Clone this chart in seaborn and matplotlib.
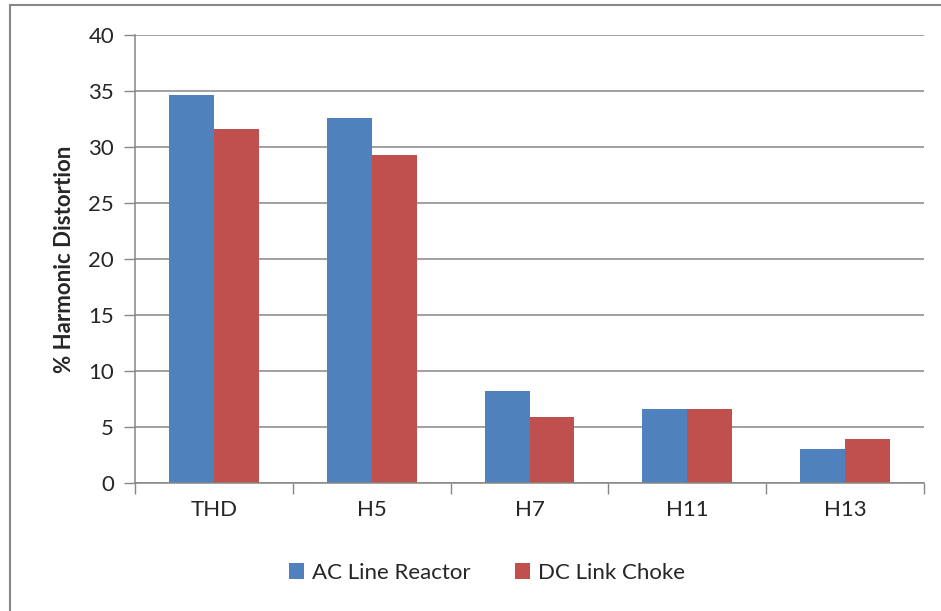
import matplotlib
matplotlib.use("Agg")
import matplotlib.pyplot as plt
from matplotlib.patches import Rectangle
import pandas as pd
import seaborn as sns

categories = ["THD", "H5", "H7", "H11", "H13"]
series_names = ["AC Line Reactor", "DC Link Choke"]
ac_line_reactor = [34.6, 32.6, 8.25, 6.6, 3.0]
dc_link_choke = [31.6, 29.3, 5.85, 6.6, 3.9]
y_ticks = [0, 5, 10, 15, 20, 25, 30, 35, 40]

df = pd.DataFrame({
    "category": categories * 2,
    "series": [series_names[0]] * len(categories) + [series_names[1]] * len(categories),
    "value": ac_line_reactor + dc_link_choke,
})

sns.set_style("white")
plt.rcParams["font.family"] = ["Lato", "DejaVu Sans"]

grey = "#868686"
fig = plt.figure(figsize=(9.41, 6.11), dpi=100)
ax = fig.add_axes([135 / 941, 1 - 483 / 611, (924 - 135) / 941, (483 - 35) / 611])

sns.barplot(data=df, x="category", y="value", hue="series", order=categories,
            hue_order=series_names, palette=["#4F81BD", "#C0504D"],
            width=0.57, gap=0, saturation=1, edgecolor="none", ax=ax)

ax.set_ylim(0, 40)
ax.set_xlim(-0.5, len(categories) - 0.5)
ax.set_yticks(y_ticks)
ax.set_yticklabels([str(t) for t in y_ticks], fontsize=16)
ax.yaxis.grid(True, color=grey, linewidth=1.1)
ax.set_axisbelow(True)
ax.tick_params(axis="y", length=8, width=1, color=grey, pad=7, left=True)
ax.tick_params(axis="x", length=0, pad=12, labelsize=16)
# category separator ticks
ax.set_xticks([i - 0.5 for i in range(len(categories) + 1)], minor=True)
ax.tick_params(axis="x", which="minor", length=8, width=1, color=grey, bottom=True)

for s in ["top", "right"]:
    ax.spines[s].set_visible(False)
for s in ["left", "bottom"]:
    ax.spines[s].set_color(grey)
    ax.spines[s].set_linewidth(1.1)

ax.set_xlabel("")
ax.set_ylabel("% Harmonic Distortion", fontsize=16, fontweight="bold", labelpad=10)

ax.legend(loc="center", bbox_to_anchor=(0.446, -0.2), ncol=2, frameon=False,
          fontsize=16, handlelength=0.7, handleheight=0.7, handletextpad=0.35,
          columnspacing=2.0)

fig.patches.append(Rectangle((10 / 941, -0.1), 1.2, 1.1 - 5 / 611, transform=fig.transFigure,
                             fill=False, edgecolor=grey, linewidth=1.5))

fig.savefig("out.png", dpi=100)
